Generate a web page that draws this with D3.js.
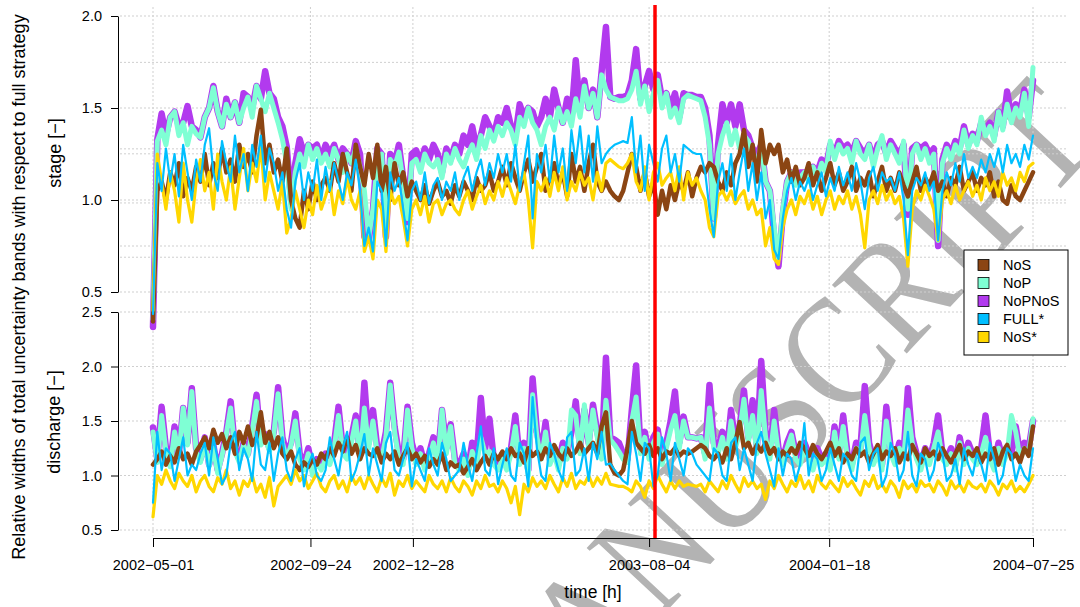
<!DOCTYPE html>
<html>
<head>
<meta charset="utf-8">
<script src="https://cdn.jsdelivr.net/npm/d3@7"></script>
<style>
    body { margin: 0; background: #fff; }
    svg text { font-family: "Liberation Sans", Arial, sans-serif; fill: #000; }
</style>
</head>
<body>
<svg id="chart" width="1080" height="607"></svg>
<script>
// values sampled every 4 days from the start date
const startDate = "2002-05-01",
    stepDays = 4,
    tickDates = ["2002-05-01", "2002-09-24", "2002-12-28", "2003-08-04", "2004-01-18", "2004-07-25"],
    eventDate = "2003-08-09T12:00:00Z";

const seriesNames = ["NoS", "NoP", "NoPNoS", "FULL*", "NoS*"],
    seriesColors = ["#8B4513", "#7FFFD4", "#B23AEE", "#00BFFF", "#FFD700"];

const stageTicks = [0.5, 1.0, 1.5, 2.0],
    stageGrid = [2.0, 1.748, 1.5, 1.278, 1.251, 1.0, 0.984, 0.75, 0.689, 0.5],
    dischargeTicks = [0.5, 1.0, 1.5, 2.0, 2.5];

// ---- stage
const stageNoP = [0.35,
    1.32, 1.38, 1.30, 1.45, 1.48, 1.35, 1.42, 1.30, 1.40, 1.36,
    1.34, 1.45, 1.50, 1.61, 1.48, 1.40, 1.52, 1.45, 1.53, 1.42,
    1.50, 1.56, 1.45, 1.62, 1.55, 1.48, 1.58, 1.50, 1.42, 1.33,
    1.20, 0.95, 1.15, 1.25, 1.18, 1.30, 1.22, 1.28, 1.20, 1.25,
    1.18, 1.28, 1.22, 1.15, 1.25, 1.20, 1.28, 1.18, 1.05, 0.80,
    0.95, 1.20, 1.25, 0.85, 1.22, 1.18, 1.26, 1.10, 0.90, 1.20,
    1.22, 1.15, 1.25, 1.20, 1.18, 1.22, 1.12, 1.25, 1.20, 1.28,
    1.22, 1.18, 1.25, 1.30, 1.22, 1.35, 1.28, 1.38, 1.32, 1.40,
    1.35, 1.42, 1.38, 1.30, 1.45, 1.40, 1.50, 1.42, 1.38, 1.30,
    1.40, 1.45, 1.38, 1.50, 1.42, 1.48, 1.40, 1.55, 1.45, 1.62,
    1.50, 1.58, 1.45, 1.68, 1.60, 1.56, 1.55, 1.54, 1.54, 1.55,
    1.60, 1.70, 1.52, 1.62, 1.48, 1.58, 1.65, 1.50, 1.58, 1.45,
    1.50, 1.42, 1.55, 1.57, 1.56, 1.55, 1.54, 1.45, 1.30, 0.90,
    1.25, 1.35, 1.42, 1.30, 1.38, 1.28, 1.35, 1.32, 1.25, 1.20,
    1.30, 1.10, 1.05, 0.85, 0.68, 0.95, 1.10, 1.15, 1.08, 1.12,
    1.15, 1.10, 1.18, 1.12, 1.20, 1.15, 1.32, 1.22, 1.30, 1.25,
    1.28, 1.20, 1.32, 1.25, 1.22, 1.30, 1.18, 1.28, 1.35, 1.22,
    1.30, 1.25, 1.20, 1.32, 0.95, 1.25, 1.30, 1.22, 1.28, 1.20,
    1.25, 0.78, 1.20, 1.28, 1.22, 1.30, 1.25, 1.38, 1.28, 1.35,
    1.30, 1.45, 1.35, 1.40, 1.32, 1.48, 1.38, 1.52, 1.42, 1.50,
    1.45, 1.58, 1.40, 1.72];

const stageNoPNoS = [0.31,
    1.33, 1.47, 1.35, 1.45, 1.48, 1.40, 1.42, 1.51, 1.40, 1.38,
    1.34, 1.45, 1.50, 1.62, 1.48, 1.40, 1.55, 1.45, 1.53, 1.42,
    1.58, 1.56, 1.50, 1.62, 1.55, 1.70, 1.58, 1.55, 1.45, 1.40,
    1.29, 1.00, 1.20, 1.33, 1.25, 1.30, 1.28, 1.30, 1.22, 1.30,
    1.25, 1.30, 1.22, 1.28, 1.25, 1.20, 1.32, 1.25, 0.80, 0.78,
    0.95, 1.28, 1.25, 0.80, 1.25, 1.20, 1.30, 1.12, 0.88, 1.25,
    1.27, 1.20, 1.28, 1.22, 1.30, 1.25, 1.15, 1.28, 1.22, 1.30,
    1.25, 1.35, 1.30, 1.40, 1.28, 1.35, 1.45, 1.40, 1.35, 1.45,
    1.42, 1.50, 1.40, 1.35, 1.52, 1.45, 1.50, 1.48, 1.40, 1.45,
    1.55, 1.45, 1.60, 1.50, 1.42, 1.55, 1.45, 1.76, 1.50, 1.65,
    1.50, 1.60, 1.45, 1.70, 1.94, 1.56, 1.55, 1.56, 1.56, 1.57,
    1.65, 1.82, 1.55, 1.62, 1.70, 1.60, 1.68, 1.55, 1.58, 1.50,
    1.58, 1.45, 1.58, 1.57, 1.57, 1.56, 1.56, 1.50, 1.35, 0.90,
    1.30, 1.52, 1.42, 1.52, 1.40, 1.52, 1.38, 1.35, 1.28, 1.25,
    1.30, 1.10, 1.05, 0.80, 0.64, 0.92, 1.10, 1.15, 1.10, 1.15,
    1.15, 1.12, 1.18, 1.15, 1.22, 1.18, 1.30, 1.25, 1.32, 1.28,
    1.30, 1.25, 1.32, 1.28, 1.25, 1.30, 1.22, 1.30, 1.32, 1.25,
    1.32, 1.28, 1.25, 1.30, 0.92, 1.28, 1.30, 1.28, 1.30, 1.25,
    1.28, 0.75, 1.22, 1.30, 1.25, 1.32, 1.28, 1.40, 1.30, 1.36,
    1.32, 1.42, 1.38, 1.42, 1.35, 1.48, 1.40, 1.59, 1.45, 1.52,
    1.48, 1.60, 1.45, 1.65];

const stageNoS = [0.34,
    1.05, 1.10, 1.00, 1.15, 1.08, 1.20, 1.02, 1.12, 1.05, 1.18,
    1.10, 1.25, 1.08, 1.20, 1.12, 1.28, 1.15, 1.22, 1.10, 1.30,
    1.18, 1.25, 1.15, 1.35, 1.49, 1.20, 1.30, 1.15, 1.22, 1.10,
    1.28, 1.00, 0.90, 0.85, 1.05, 0.95, 1.10, 1.00, 1.08, 1.12,
    1.05, 1.20, 1.10, 1.25, 1.15, 1.05, 1.30, 1.18, 1.08, 1.25,
    1.12, 1.30, 1.05, 1.18, 1.00, 1.20, 1.08, 1.15, 1.02, 1.10,
    1.05, 1.00, 1.08, 0.98, 1.05, 1.10, 1.02, 1.05, 0.98, 1.08,
    1.02, 1.10, 1.05, 1.00, 1.12, 1.05, 1.08, 1.15, 1.05, 1.10,
    1.18, 1.08, 1.20, 1.12, 1.05, 1.15, 1.22, 1.10, 1.18, 1.25,
    1.05, 1.12, 1.20, 1.08, 1.15, 1.02, 1.25, 1.10, 1.18, 1.05,
    1.20, 1.30, 1.10, 1.05, 1.10, 1.05, 1.02, 1.00, 1.05, 1.15,
    1.25, 1.18, 1.05, 1.15, 1.02, 1.10, 0.92, 1.05, 0.95, 1.08,
    1.00, 1.10, 1.05, 1.15, 1.02, 1.12, 1.18, 1.15, 1.20, 1.18,
    1.10, 1.05, 1.15, 1.08, 1.20, 1.25, 1.38, 1.18, 1.30, 1.10,
    1.38, 1.20, 1.30, 1.25, 1.30, 1.15, 1.22, 1.10, 1.18, 1.08,
    1.12, 1.20, 1.08, 1.15, 1.05, 1.12, 1.20, 1.08, 1.15, 1.05,
    1.10, 1.18, 1.05, 1.12, 1.08, 1.15, 1.02, 1.10, 1.18, 1.05,
    1.12, 1.05, 1.15, 1.08, 1.02, 1.10, 1.18, 1.05, 1.12, 1.08,
    1.15, 1.05, 1.10, 1.02, 1.12, 1.08, 1.18, 1.05, 1.10, 1.15,
    1.05, 1.12, 1.08, 1.15, 1.02, 1.10, 1.00, 0.98, 1.08, 1.02,
    1.00, 1.05, 1.10, 1.15];

const stageNoSStar = [0.40,
    1.25, 1.10, 0.95, 1.15, 1.05, 0.88, 1.20, 1.00, 0.88, 1.10,
    1.22, 1.05, 1.15, 0.95, 1.25, 1.10, 1.00, 1.18, 0.95, 1.12,
    1.28, 1.05, 1.20, 1.10, 1.30, 1.00, 1.15, 1.05, 0.95, 1.10,
    0.82, 0.90, 1.05, 0.95, 0.85, 1.00, 0.92, 1.08, 0.95, 1.02,
    1.10, 0.92, 1.05, 0.98, 1.12, 1.00, 0.95, 1.05, 0.72, 0.80,
    0.68, 1.00, 0.95, 0.72, 1.05, 0.98, 1.02, 0.90, 0.75, 0.95,
    1.00, 0.92, 1.02, 0.88, 0.98, 1.00, 0.92, 0.98, 1.00, 0.95,
    0.92, 1.00, 1.05, 0.95, 1.02, 1.08, 0.98, 1.05, 1.00, 1.10,
    1.02, 1.12, 1.05, 0.98, 1.08, 1.15, 1.00, 0.74, 1.10, 1.05,
    1.12, 1.02, 1.15, 1.05, 1.18, 1.00, 1.10, 1.05, 1.15, 1.08,
    1.12, 1.00, 1.15, 1.05, 1.20, 1.22, 1.20, 1.18, 1.17, 1.20,
    1.25, 1.10, 1.05, 1.18, 1.00, 1.15, 1.20, 1.08, 1.12, 1.15,
    1.05, 1.18, 1.00, 1.15, 1.08, 1.12, 1.05, 1.00, 0.85, 0.80,
    1.02, 1.05, 1.00, 1.05, 0.98, 1.02, 1.05, 0.95, 1.00, 0.92,
    0.95, 0.75, 0.85, 0.68, 0.65, 0.85, 0.95, 1.00, 0.92, 1.02,
    0.98, 1.05, 0.95, 1.02, 0.92, 1.00, 1.05, 0.95, 1.02, 0.98,
    1.05, 0.95, 1.02, 0.92, 0.74, 1.00, 1.05, 0.98, 1.08, 1.00,
    1.05, 0.98, 1.02, 0.90, 0.64, 0.95, 1.05, 1.00, 1.08, 1.02,
    0.95, 0.78, 1.00, 1.05, 0.98, 1.08, 1.00, 1.05, 1.10, 1.02,
    1.08, 1.00, 1.12, 1.05, 1.10, 1.02, 1.15, 1.08, 1.12, 1.05,
    1.15, 1.10, 1.18, 1.20];

const stageFull = [0.38,
    1.20, 1.05, 1.28, 1.10, 1.25, 1.02, 1.30, 1.15, 1.00, 1.22,
    1.10, 1.30, 1.39, 1.15, 1.05, 1.32, 1.20, 1.10, 1.35, 1.15,
    1.25, 1.05, 1.30, 1.18, 1.35, 1.10, 1.28, 1.20, 1.05, 1.15,
    0.95, 0.85, 1.10, 1.20, 1.00, 1.15, 1.05, 1.22, 1.00, 1.18,
    1.05, 1.20, 1.10, 1.00, 1.15, 1.08, 1.22, 1.05, 0.75, 0.85,
    0.72, 1.10, 1.05, 0.75, 1.15, 1.05, 1.12, 0.95, 0.78, 1.05,
    1.10, 1.00, 1.15, 0.98, 1.08, 1.12, 1.00, 1.10, 1.05, 1.15,
    1.00, 1.12, 1.18, 1.05, 1.15, 1.22, 1.08, 1.20, 1.12, 1.25,
    1.15, 1.25, 1.10, 1.30, 1.05, 1.20, 1.35, 0.90, 1.25, 1.15,
    1.30, 1.10, 1.35, 1.15, 1.28, 1.05, 1.38, 1.20, 1.40, 1.15,
    1.35, 1.10, 1.40, 1.20, 1.25, 1.28, 1.30, 1.31, 1.32, 1.31,
    1.45, 1.15, 1.35, 1.05, 1.30, 1.20, 1.10, 1.28, 1.35, 1.15,
    1.25, 1.10, 1.30, 1.28, 1.26, 1.25, 1.25, 1.15, 0.95, 0.80,
    1.10, 1.20, 1.05, 1.25, 1.00, 1.15, 1.28, 1.05, 1.20, 1.00,
    1.15, 0.90, 1.00, 0.73, 0.68, 0.90, 1.05, 1.12, 1.00, 1.10,
    1.05, 1.12, 1.00, 1.08, 1.15, 1.02, 1.12, 1.05, 1.18, 1.08,
    1.15, 1.05, 1.20, 1.10, 0.95, 1.12, 1.18, 1.05, 1.15, 1.10,
    1.12, 1.05, 1.15, 1.00, 0.70, 1.05, 1.12, 1.08, 1.15, 1.05,
    1.10, 0.78, 1.05, 1.15, 1.08, 1.20, 1.10, 1.25, 1.12, 1.18,
    1.12, 1.22, 1.15, 1.25, 1.18, 1.28, 1.15, 1.30, 1.20, 1.25,
    1.18, 1.30, 1.22, 1.35];

// ---- discharge
const dischargeNoPNoS = [1.44,
    1.15, 1.63, 1.25, 1.10, 1.45, 1.20, 1.62, 1.30, 1.80, 1.25,
    1.15, 1.35, 1.10, 1.28, 1.05, 1.20, 1.40, 1.68, 1.25, 1.15,
    1.30, 1.20, 1.45, 1.74, 1.30, 1.38, 1.25, 1.40, 1.81, 1.35,
    1.20, 1.30, 1.57, 1.20, 1.10, 1.25, 1.05, 1.15, 1.10, 1.20,
    1.15, 1.30, 1.63, 1.25, 1.20, 1.35, 1.55, 1.20, 1.85, 1.30,
    1.60, 1.25, 1.20, 1.40, 1.85, 1.45, 1.20, 1.15, 1.63, 1.30,
    1.15, 1.25, 1.10, 1.20, 1.35, 1.15, 1.60, 1.25, 1.47, 1.15,
    1.10, 1.20, 1.05, 1.30, 1.15, 1.71, 1.25, 1.52, 1.15, 1.10,
    1.20, 1.10, 1.25, 1.55, 1.15, 1.30, 1.05, 1.89, 1.40, 1.20,
    1.49, 1.15, 1.25, 1.10, 1.30, 1.20, 1.40, 1.68, 1.25, 1.60,
    1.30, 1.65, 1.40, 1.20, 2.08, 1.35, 1.33, 1.30, 1.20, 1.15,
    1.60, 2.01, 1.25, 1.40, 1.20, 1.35, 1.42, 1.15, 1.30, 1.50,
    1.77, 1.30, 1.54, 1.35, 1.35, 1.34, 1.35, 1.20, 1.83, 1.30,
    1.25, 1.40, 1.20, 1.60, 1.30, 1.45, 1.78, 1.35, 1.69, 1.25,
    2.05, 1.40, 1.20, 1.60, 1.25, 1.15, 1.30, 1.40, 1.20, 1.15,
    1.30, 1.20, 1.10, 1.25, 1.15, 1.20, 1.10, 1.45, 1.20, 1.55,
    1.20, 1.10, 1.30, 1.25, 1.82, 1.30, 1.15, 1.25, 1.10, 1.63,
    1.25, 1.15, 1.30, 1.20, 1.80, 1.35, 1.20, 1.10, 1.25, 1.15,
    1.30, 1.55, 1.20, 1.15, 1.25, 1.10, 1.35, 1.15, 1.30, 1.20,
    1.15, 1.25, 1.55, 1.20, 1.10, 1.30, 1.15, 1.25, 1.20, 1.45,
    1.20, 1.30, 1.25, 1.50];

const dischargeNoP = [1.40,
    1.12, 1.55, 1.22, 1.08, 1.40, 1.18, 1.62, 1.28, 1.77, 1.22,
    1.12, 1.30, 1.08, 1.25, 1.02, 1.18, 1.38, 1.62, 1.22, 1.12,
    1.28, 1.18, 1.40, 1.68, 1.28, 1.35, 1.22, 1.38, 1.75, 1.30,
    1.15, 1.28, 1.50, 1.15, 1.05, 1.20, 1.00, 1.12, 1.05, 1.15,
    1.10, 1.25, 1.55, 1.20, 1.15, 1.30, 1.50, 1.15, 1.62, 1.25,
    1.50, 1.20, 1.15, 1.35, 1.83, 1.40, 1.15, 1.10, 1.60, 1.25,
    1.10, 1.20, 1.05, 1.15, 1.30, 1.10, 1.60, 1.20, 1.45, 1.10,
    1.05, 1.15, 1.00, 1.22, 1.10, 1.35, 1.20, 1.22, 1.10, 1.05,
    1.15, 1.05, 1.20, 1.45, 1.10, 1.25, 1.00, 1.74, 1.35, 1.15,
    1.40, 1.10, 1.20, 1.05, 1.25, 1.15, 1.60, 1.55, 1.20, 1.65,
    1.25, 1.60, 1.35, 1.15, 1.69, 1.33, 1.28, 1.22, 1.15, 1.12,
    1.50, 1.72, 1.20, 1.35, 1.15, 1.30, 1.38, 1.10, 1.25, 1.42,
    1.55, 1.25, 1.50, 1.35, 1.35, 1.34, 1.35, 1.15, 1.62, 1.25,
    1.20, 1.35, 1.15, 1.50, 1.25, 1.40, 1.70, 1.30, 1.55, 1.20,
    1.78, 1.35, 1.15, 1.50, 1.20, 1.10, 1.25, 1.37, 1.15, 1.10,
    1.25, 1.15, 1.05, 1.20, 1.10, 1.15, 1.05, 1.40, 1.15, 1.45,
    1.15, 1.05, 1.25, 1.20, 1.55, 1.25, 1.10, 1.20, 1.05, 1.50,
    1.20, 1.10, 1.25, 1.15, 1.60, 1.30, 1.15, 1.05, 1.20, 1.10,
    1.25, 1.40, 1.15, 1.10, 1.20, 1.05, 1.30, 1.10, 1.25, 1.15,
    1.10, 1.20, 1.35, 1.15, 1.05, 1.25, 1.10, 1.20, 1.55, 1.40,
    1.15, 1.25, 1.20, 1.52];

const dischargeNoS = [1.10,
    1.15, 1.22, 1.10, 1.18, 1.12, 1.25, 1.15, 1.20, 1.10, 1.22,
    1.28, 1.35, 1.25, 1.42, 1.30, 1.38, 1.25, 1.35, 1.20, 1.40,
    1.30, 1.45, 1.28, 1.35, 1.58, 1.30, 1.40, 1.25, 1.35, 1.20,
    1.15, 1.22, 1.10, 1.05, 1.12, 1.08, 1.15, 1.10, 1.20, 1.15,
    1.25, 1.18, 1.30, 1.22, 1.35, 1.20, 1.28, 1.15, 1.25, 1.20,
    1.18, 1.25, 1.12, 1.20, 1.15, 1.22, 1.10, 1.18, 1.25, 1.15,
    1.20, 1.12, 1.18, 1.08, 1.15, 1.10, 1.20, 1.05, 1.12, 1.08,
    1.10, 1.02, 1.08, 1.15, 1.05, 1.12, 1.18, 1.10, 1.20, 1.15,
    1.22, 1.15, 1.25, 1.18, 1.20, 1.12, 1.25, 1.18, 1.22, 1.15,
    1.25, 1.18, 1.28, 1.20, 1.15, 1.25, 1.18, 1.22, 1.30, 1.20,
    1.25, 1.30, 1.20, 1.45, 1.58, 1.10, 1.02, 1.00, 1.05, 1.25,
    1.50, 1.30, 1.25, 1.20, 1.28, 1.18, 1.25, 1.15, 1.22, 1.20,
    1.25, 1.18, 1.22, 1.20, 1.22, 1.25, 1.28, 1.25, 1.18, 1.15,
    1.20, 1.12, 1.25, 1.15, 1.30, 1.49, 1.25, 1.30, 1.20, 1.28,
    1.22, 1.30, 1.20, 1.25, 1.15, 1.22, 1.18, 1.25, 1.20, 1.30,
    1.25, 1.18, 1.28, 1.20, 1.15, 1.22, 1.30, 1.18, 1.25, 1.12,
    1.20, 1.15, 1.25, 1.18, 1.22, 1.12, 1.20, 1.28, 1.15, 1.22,
    1.18, 1.25, 1.12, 1.20, 1.15, 1.28, 1.20, 1.12, 1.25, 1.18,
    1.22, 1.15, 1.25, 1.18, 1.12, 1.20, 1.28, 1.15, 1.22, 1.18,
    1.25, 1.12, 1.20, 1.15, 1.25, 1.10, 1.22, 1.28, 1.15, 1.20,
    1.12, 1.25, 1.18, 1.45];

const dischargeNoSStar = [0.62,
    1.00, 0.92, 1.05, 0.95, 0.88, 1.02, 0.95, 0.90, 1.00, 0.85,
    0.95, 1.00, 0.90, 0.85, 0.98, 0.92, 1.05, 0.88, 0.95, 0.82,
    0.95, 0.90, 1.00, 0.85, 0.92, 0.80, 0.98, 0.72, 0.90, 0.95,
    1.00, 0.92, 1.05, 0.95, 1.00, 0.88, 0.95, 1.02, 0.90, 0.85,
    0.95, 1.00, 0.88, 0.95, 0.85, 1.00, 0.92, 0.98, 0.88, 1.00,
    0.92, 0.85, 0.98, 0.90, 1.02, 0.82, 0.95, 0.90, 1.00, 0.88,
    0.95, 0.90, 0.85, 1.00, 0.92, 0.88, 0.95, 0.85, 0.98, 0.90,
    0.85, 0.95, 0.90, 0.82, 0.95, 0.88, 1.00, 0.90, 0.92, 0.85,
    0.95, 0.88, 0.75, 0.90, 0.64, 0.92, 0.85, 0.98, 0.90, 0.95,
    0.88, 1.00, 0.92, 0.85, 0.98, 0.90, 1.02, 0.88, 0.95, 0.92,
    1.00, 0.90, 0.98, 0.92, 1.02, 0.92, 0.91, 0.90, 0.90, 0.88,
    0.85, 0.95, 0.90, 0.80, 0.95, 0.88, 1.00, 0.92, 0.85, 0.95,
    0.88, 0.95, 0.90, 0.92, 0.91, 0.90, 0.92, 0.85, 0.95, 0.90,
    0.85, 0.95, 0.88, 1.00, 0.92, 0.85, 0.98, 0.90, 0.95, 0.88,
    0.92, 0.78, 0.95, 0.88, 1.00, 0.92, 0.85, 0.95, 0.90, 1.00,
    0.88, 0.95, 0.85, 1.00, 0.92, 0.88, 0.95, 0.90, 0.85, 0.98,
    0.90, 0.95, 0.88, 0.82, 0.95, 0.90, 1.00, 0.88, 0.92, 0.85,
    0.95, 0.90, 0.80, 0.95, 0.88, 0.92, 0.85, 0.95, 0.90, 0.92,
    0.85, 0.95, 0.90, 0.82, 0.95, 0.88, 0.92, 0.85, 0.95, 0.90,
    0.88, 0.92, 0.85, 0.95, 0.90, 0.82, 0.92, 0.88, 0.95, 0.85,
    0.90, 0.85, 0.92, 1.00];

const dischargeFull = [0.75,
    1.40, 1.05, 1.25, 1.20, 0.95, 1.15, 1.35, 1.00, 1.10, 1.05,
    1.20, 1.30, 1.00, 1.35, 1.15, 0.92, 1.00, 1.30, 1.40, 1.05,
    1.25, 1.15, 0.95, 1.40, 1.10, 1.05, 1.30, 0.95, 1.20, 1.35,
    1.05, 0.95, 1.15, 1.25, 0.90, 1.10, 1.20, 1.00, 0.95, 1.05,
    1.35, 1.15, 1.00, 1.25, 1.40, 0.95, 1.05, 1.20, 1.38, 1.00,
    1.25, 1.10, 0.95, 1.30, 1.40, 1.05, 1.00, 1.15, 1.30, 0.90,
    1.15, 1.05, 0.95, 1.25, 1.10, 1.00, 1.30, 1.15, 0.95, 1.00,
    1.05, 1.30, 1.10, 0.95, 1.20, 1.45, 1.05, 1.00, 1.25, 0.92,
    1.10, 1.25, 1.00, 0.95, 1.30, 1.20, 0.90, 1.72, 1.25, 1.00,
    0.95, 1.30, 1.20, 1.05, 0.95, 1.35, 1.40, 1.00, 1.05, 1.25,
    0.95, 1.30, 1.15, 1.40, 1.10, 1.11, 1.05, 1.00, 0.95, 0.92,
    1.40, 1.20, 0.95, 1.30, 1.25, 0.90, 1.00, 1.35, 1.20, 0.95,
    1.30, 1.15, 1.00, 1.25, 1.20, 1.10, 1.05, 1.00, 0.95, 1.25,
    1.20, 1.00, 0.95, 1.30, 1.35, 1.05, 1.25, 1.10, 0.95, 1.30,
    1.40, 1.20, 1.05, 0.90, 1.25, 1.00, 1.20, 1.15, 0.95, 1.10,
    1.48, 1.00, 1.20, 1.15, 0.95, 1.05, 1.25, 1.10, 0.95, 1.20,
    1.15, 1.00, 0.95, 1.30, 1.35, 1.05, 1.20, 1.25, 0.90, 1.00,
    1.30, 1.20, 0.95, 1.05, 1.40, 1.00, 0.90, 1.20, 1.15, 0.95,
    1.05, 1.30, 1.20, 0.95, 1.00, 1.15, 0.92, 1.25, 1.10, 1.00,
    1.20, 1.10, 0.95, 1.30, 1.15, 0.92, 1.00, 1.25, 1.20, 0.95,
    1.10, 1.00, 0.95, 1.25];

const stageSeries = { "NoS": stageNoS, "NoP": stageNoP, "NoPNoS": stageNoPNoS, "FULL*": stageFull, "NoS*": stageNoSStar },
    dischargeSeries = { "NoS": dischargeNoS, "NoP": dischargeNoP, "NoPNoS": dischargeNoPNoS, "FULL*": dischargeFull, "NoS*": dischargeNoSStar };

// drawing order and widths (widest at the back)
const drawOrder = ["NoPNoS", "NoP", "NoS", "NoS*", "FULL*"],
    lineWidths = { "NoPNoS": 6.5, "NoP": 5, "NoS": 4.5, "NoS*": 3.2, "FULL*": 2.2 };

const svg = d3.select("#chart"),
    parseDay = d3.utcParse("%Y-%m-%d"),
    start = parseDay(startDate),
    colorOf = d3.scaleOrdinal(seriesNames, seriesColors);

function dateAt(i) {
    return d3.utcDay.offset(start, i * stepDays);
}

const x = d3.scaleUtc()
    .domain([start, parseDay(tickDates[tickDates.length - 1])])
    .range([153, 1033]);

const yStage = d3.scaleLinear().domain([0.5, 2.0]).range([292, 16]),
    yDischarge = d3.scaleLinear().domain([0.5, 2.5]).range([530, 312]);

svg.append("rect").attr("width", 1080).attr("height", 607).attr("fill", "#fff");

// watermark
svg.append("text")
    .attr("transform", "translate(510,779) rotate(-47) scale(0.87,1)")
    .style("font-family", "'Liberation Serif', 'Times New Roman', serif")
    .style("font-size", "155px")
    .style("fill", "#b3b3b3")
    .text("MANUSCRIPT");

// grid
const grid = svg.append("g")
    .attr("stroke", "#cfcfcf")
    .attr("stroke-width", 1)
    .attr("stroke-dasharray", "2,2");

grid.selectAll("line.v")
    .data(tickDates)
    .enter()
    .append("line")
    .attr("class", "v")
    .attr("x1", function (d) { return x(parseDay(d)); })
    .attr("x2", function (d) { return x(parseDay(d)); })
    .attr("y1", 7)
    .attr("y2", 536);

grid.selectAll("line.hs")
    .data(stageGrid)
    .enter()
    .append("line")
    .attr("class", "hs")
    .attr("x1", 120).attr("x2", 1068)
    .attr("y1", function (d) { return yStage(d); })
    .attr("y2", function (d) { return yStage(d); });

grid.selectAll("line.hd")
    .data(dischargeTicks)
    .enter()
    .append("line")
    .attr("class", "hd")
    .attr("x1", 120).attr("x2", 1068)
    .attr("y1", function (d) { return yDischarge(d); })
    .attr("y2", function (d) { return yDischarge(d); });

// series
function drawPanel(seriesMap, yScale) {
    const line = d3.line()
        .x(function (d, i) { return x(dateAt(i)); })
        .y(function (d) { return yScale(d); });

    svg.append("g")
        .selectAll("path")
        .data(drawOrder)
        .enter()
        .append("path")
        .attr("d", function (name) { return line(seriesMap[name]); })
        .attr("fill", "none")
        .attr("stroke", function (name) { return colorOf(name); })
        .attr("stroke-width", function (name) { return lineWidths[name]; })
        .attr("stroke-linejoin", "round")
        .attr("stroke-linecap", "round");
}

drawPanel(stageSeries, yStage);
drawPanel(dischargeSeries, yDischarge);

// axes
function styleAxis(g) {
    g.selectAll("path, line").attr("stroke", "#000");
    g.selectAll("text").style("font-size", "14.5px").style("font-family", "'Liberation Sans', Arial, sans-serif");
}

svg.append("g")
    .attr("transform", "translate(118,0)")
    .call(d3.axisLeft(yStage).tickValues(stageTicks).tickFormat(d3.format(".1f")).tickSize(7).tickSizeOuter(0).tickPadding(9))
    .call(styleAxis);

svg.append("g")
    .attr("transform", "translate(118,0)")
    .call(d3.axisLeft(yDischarge).tickValues(dischargeTicks).tickFormat(d3.format(".1f")).tickSize(7).tickSizeOuter(0).tickPadding(9))
    .call(styleAxis);

svg.append("g")
    .attr("transform", "translate(0,538)")
    .call(d3.axisBottom(x).tickValues(tickDates.map(parseDay)).tickFormat(d3.utcFormat("%Y\u2212%m\u2212%d")).tickSize(9).tickSizeOuter(0).tickPadding(13))
    .call(styleAxis);

// event line
svg.append("line")
    .attr("x1", x(new Date(eventDate)))
    .attr("x2", x(new Date(eventDate)))
    .attr("y1", 5)
    .attr("y2", 538)
    .attr("stroke", "#ff0000")
    .attr("stroke-width", 3.5);

// titles
svg.append("text")
    .attr("transform", "translate(593,598)")
    .attr("text-anchor", "middle")
    .style("font-size", "17.5px")
    .text("time [h]");

svg.append("text")
    .attr("transform", "translate(61,153) rotate(-90)")
    .attr("text-anchor", "middle")
    .style("font-size", "18px")
    .text("stage [\u2212]");

svg.append("text")
    .attr("transform", "translate(60,422) rotate(-90)")
    .attr("text-anchor", "middle")
    .style("font-size", "18px")
    .text("discharge [\u2212]");

svg.append("text")
    .attr("transform", "translate(25,287) rotate(-90)")
    .attr("text-anchor", "middle")
    .style("font-size", "18px")
    .text("Relative widths of total uncertainty bands with respect to full strategy");

// legend
const legend = svg.append("g").attr("transform", "translate(964,250)");

legend.append("rect")
    .attr("width", 104)
    .attr("height", 105)
    .attr("fill", "#fff")
    .attr("stroke", "#000");

const rows = legend.selectAll("g")
    .data(seriesNames)
    .enter()
    .append("g")
    .attr("transform", function (d, i) { return "translate(0," + (15 + i * 18) + ")"; });

rows.append("rect")
    .attr("x", 14).attr("y", -5.5)
    .attr("width", 11).attr("height", 11)
    .attr("fill", function (d) { return colorOf(d); })
    .attr("stroke", "#000")
    .attr("stroke-width", 0.8);

rows.append("text")
    .attr("x", 39)
    .attr("dy", "0.35em")
    .style("font-size", "14.5px")
    .text(function (d) { return d; });
</script>
</body>
</html>
